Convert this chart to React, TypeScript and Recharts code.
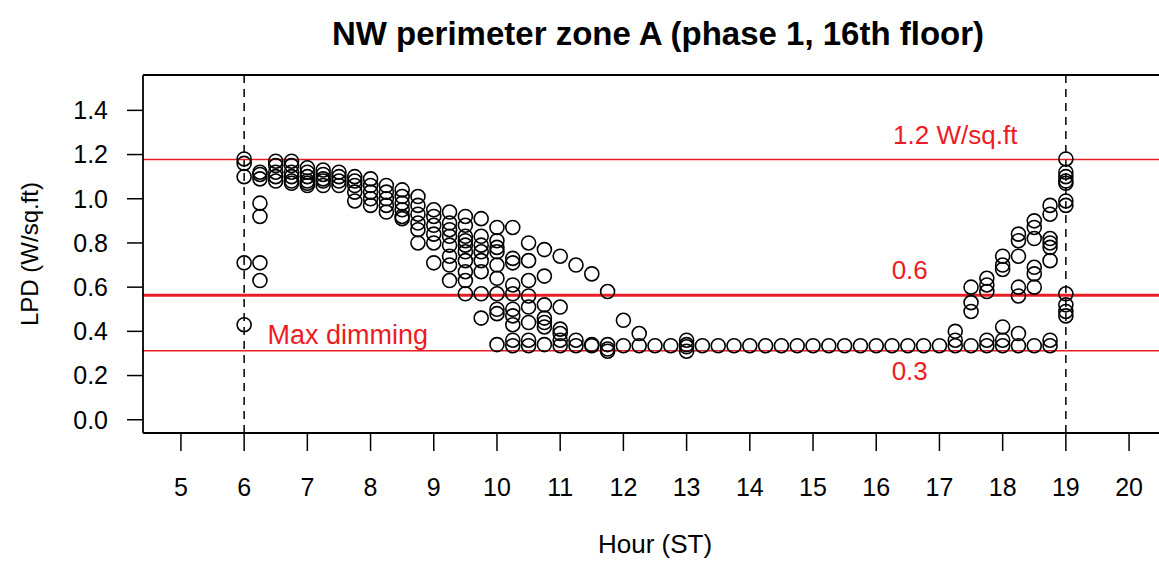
import { ScatterChart, Scatter, XAxis, YAxis, ReferenceLine, ReferenceDot } from "recharts";

// quarter-hour sample times (ST)
const hours = [
  6, 6.25, 6.5, 6.75, 7, 7.25, 7.5, 7.75, 8, 8.25, 8.5, 8.75,
  9, 9.25, 9.5, 9.75, 10, 10.25, 10.5, 10.75, 11, 11.25, 11.5, 11.75,
  12, 12.25, 12.5, 12.75, 13, 13.25, 13.5, 13.75, 14, 14.25, 14.5, 14.75,
  15, 15.25, 15.5, 15.75, 16, 16.25, 16.5, 16.75, 17, 17.25, 17.5, 17.75,
  18, 18.25, 18.5, 18.75, 19,
];

// LPD readings (W/sq.ft) for each time, several days overlaid
const lpd = [
  [1.18, 1.16, 1.1, 0.71, 0.43],
  [1.12, 1.11, 1.09, 0.98, 0.92, 0.71, 0.63],
  [1.17, 1.15, 1.12, 1.1, 1.08],
  [1.17, 1.15, 1.12, 1.1, 1.08, 1.07],
  [1.14, 1.12, 1.1, 1.08, 1.07, 1.06],
  [1.13, 1.11, 1.09, 1.08, 1.06],
  [1.12, 1.1, 1.08, 1.06],
  [1.1, 1.08, 1.06, 1.03, 0.99],
  [1.09, 1.06, 1.03, 1.0, 0.97],
  [1.06, 1.03, 1.0, 0.97, 0.94],
  [1.04, 1.01, 0.98, 0.95, 0.92, 0.91],
  [1.01, 0.97, 0.93, 0.89, 0.86, 0.8],
  [0.95, 0.92, 0.88, 0.84, 0.8, 0.71],
  [0.94, 0.89, 0.86, 0.83, 0.79, 0.74, 0.7, 0.63],
  [0.92, 0.88, 0.83, 0.81, 0.79, 0.76, 0.72, 0.67, 0.63, 0.57],
  [0.91, 0.83, 0.79, 0.76, 0.72, 0.67, 0.57, 0.46],
  [0.87, 0.81, 0.78, 0.76, 0.7, 0.64, 0.57, 0.5, 0.48, 0.34],
  [0.87, 0.73, 0.71, 0.61, 0.57, 0.5, 0.47, 0.43, 0.36, 0.335],
  [0.8, 0.72, 0.63, 0.56, 0.51, 0.44, 0.36, 0.335],
  [0.77, 0.65, 0.52, 0.46, 0.44, 0.42, 0.34],
  [0.74, 0.51, 0.41, 0.39, 0.36, 0.335],
  [0.7, 0.36, 0.335],
  [0.66, 0.34, 0.335],
  [0.58, 0.34, 0.32, 0.31],
  [0.45, 0.335],
  [0.39, 0.335],
  [0.335],
  [0.335],
  [0.36, 0.34, 0.33, 0.31],
  [0.335], [0.335], [0.335], [0.335], [0.335], [0.335], [0.335],
  [0.335], [0.335], [0.335], [0.335], [0.335], [0.335], [0.335], [0.335],
  [0.335],
  [0.4, 0.36, 0.335],
  [0.6, 0.53, 0.49, 0.335],
  [0.64, 0.61, 0.58, 0.36, 0.335],
  [0.74, 0.7, 0.68, 0.42, 0.36, 0.335],
  [0.84, 0.81, 0.74, 0.6, 0.56, 0.39, 0.335],
  [0.9, 0.87, 0.82, 0.69, 0.66, 0.6, 0.335],
  [0.97, 0.93, 0.82, 0.8, 0.78, 0.72, 0.36, 0.335],
  [1.18, 1.12, 1.1, 1.08, 1.07, 0.99, 0.97, 0.57, 0.52, 0.49, 0.47],
];

const hourTicks = [5, 6, 7, 8, 9, 10, 11, 12, 13, 14, 15, 16, 17, 18, 19, 20];
const lpdTicks = [0, 0.2, 0.4, 0.6, 0.8, 1.0, 1.2, 1.4];

const fullPower = 1.178;
const designTarget = 0.563;
const maxDimming = 0.312;
const occupiedStart = 6;
const occupiedEnd = 19;

const points = hours.flatMap((h, i) => lpd[i].map((v) => ({ x: h, y: v })));

const FONT = '"Liberation Sans", Arial, Helvetica, sans-serif';
const RED = "#ec1c24";

const Ring = (props: any) => (
  <circle cx={props.cx} cy={props.cy} r={7} fill="none" stroke="#000" strokeWidth={1.6} />
);

export default function App() {
  return (
    <div
      style={{
        position: "absolute",
        left: 0,
        top: 0,
        width: 1159,
        height: 567,
        overflow: "hidden",
        background: "#fff",
        fontFamily: FONT,
      }}
    >
      <ScatterChart width={1200} height={567} margin={{ top: 75, right: 33, bottom: 74, left: 83 }}>
        <XAxis
          type="number"
          dataKey="x"
          domain={[4.4, 20.6]}
          ticks={hourTicks}
          interval={0}
          allowDataOverflow
          height={60}
          tickSize={18}
          tickMargin={27}
          axisLine={{ stroke: "#000", strokeWidth: 1.8 }}
          tickLine={{ stroke: "#000", strokeWidth: 1.5 }}
          tick={{ fontSize: 25, fill: "#000", fontFamily: FONT }}
          label={{ value: "Hour (ST)", position: "bottom", offset: 42, fontSize: 26, fill: "#000", fontFamily: FONT }}
        />
        <YAxis
          type="number"
          dataKey="y"
          domain={[-0.06, 1.56]}
          ticks={lpdTicks}
          interval={0}
          allowDataOverflow
          width={60}
          tickSize={16}
          tickMargin={19}
          tickFormatter={(v: number) => v.toFixed(1)}
          axisLine={{ stroke: "#000", strokeWidth: 1.8 }}
          tickLine={{ stroke: "#000", strokeWidth: 1.5 }}
          tick={{ fontSize: 25, fill: "#000", fontFamily: FONT }}
        />
        <ReferenceLine y={1.56} stroke="#000" strokeWidth={1.8} />
        <ReferenceLine x={occupiedStart} stroke="#000" strokeWidth={1.5} strokeDasharray="8 6" />
        <ReferenceLine x={occupiedEnd} stroke="#000" strokeWidth={1.5} strokeDasharray="8 6" />
        <ReferenceLine y={fullPower} stroke={RED} strokeWidth={1.5} />
        <ReferenceLine y={designTarget} stroke={RED} strokeWidth={3} />
        <ReferenceLine y={maxDimming} stroke={RED} strokeWidth={1.5} />
        <Scatter data={points} shape={Ring} isAnimationActive={false} />
        <ReferenceDot
          x={17.25}
          y={1.29}
          r={0}
          fill="none"
          stroke="none"
          label={{ value: "1.2 W/sq.ft", position: "center", fill: RED, fontSize: 26, fontFamily: FONT }}
        />
        <ReferenceDot
          x={16.53}
          y={0.68}
          r={0}
          fill="none"
          stroke="none"
          label={{ value: "0.6", position: "center", fill: RED, fontSize: 26, fontFamily: FONT }}
        />
        <ReferenceDot
          x={16.53}
          y={0.22}
          r={0}
          fill="none"
          stroke="none"
          label={{ value: "0.3", position: "center", fill: RED, fontSize: 26, fontFamily: FONT }}
        />
        <ReferenceDot
          x={7.64}
          y={0.387}
          r={0}
          fill="none"
          stroke="none"
          label={{ value: "Max dimming", position: "center", fill: RED, fontSize: 27, fontFamily: FONT }}
        />
      </ScatterChart>
      <svg
        width={1159}
        height={567}
        style={{ position: "absolute", left: 0, top: 0, pointerEvents: "none" }}
      >
        <text x={658} y={45} textAnchor="middle" fontSize={33} fontWeight="bold" fontFamily={FONT} fill="#000">
          NW perimeter zone A (phase 1, 16th floor)
        </text>
        <text
          x={38}
          y={254}
          textAnchor="middle"
          fontSize={24}
          fontFamily={FONT}
          fill="#000"
          transform="rotate(-90, 38, 254)"
        >
          LPD (W/sq.ft)
        </text>
      </svg>
    </div>
  );
}
